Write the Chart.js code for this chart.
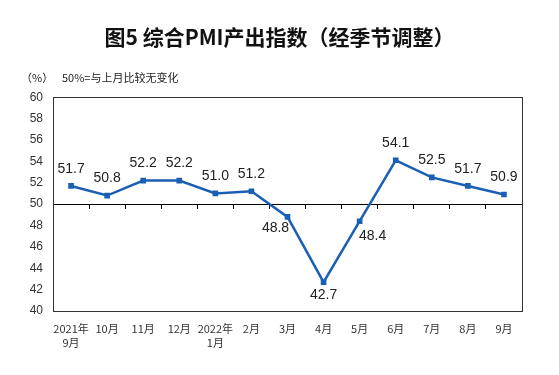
<!DOCTYPE html>
<html>
<head>
<meta charset="utf-8">
<script src="https://cdn.jsdelivr.net/npm/chart.js@4.4.1/dist/chart.umd.min.js"></script>
<style>
  body { margin: 0; background: #fff; }
</style>
</head>
<body>
<canvas id="pmiChart" width="559" height="375"></canvas>
<script>
// Data
const months = [['2021年', '9月'], '10月', '11月', '12月', ['2022年', '1月'], '2月', '3月', '4月', '5月', '6月', '7月', '8月', '9月'];
const pmiValues = [51.7, 50.8, 52.2, 52.2, 51.0, 51.2, 48.8, 42.7, 48.4, 54.1, 52.5, 51.7, 50.9];
const yMin = 40;
const yMax = 60;
const yStep = 2;
const baseline = 50;
const labelPlacement = ['above', 'above', 'above', 'above', 'above', 'above', 'leftBelow', 'below', 'rightBelow', 'above', 'above', 'above', 'above'];

const lineColor = '#1a5fb4';
const labelOffsets = {
    above: [0, -17],
    below: [0, 13],
    leftBelow: [-12, 11],
    rightBelow: [13, 15]
};

// Box around the plot area
const plotBox = {
    id: 'plotBox',
    beforeDatasetsDraw(chart) {
        const { ctx, chartArea } = chart;
        ctx.save();
        ctx.strokeStyle = '#333';
        ctx.lineWidth = 1;
        ctx.strokeRect(Math.round(chartArea.left) + 0.5, Math.round(chartArea.top) + 0.5,
            Math.round(chartArea.right - chartArea.left), Math.round(chartArea.bottom - chartArea.top));
        ctx.restore();
    }
};

// Value labels next to each point
const valueLabels = {
    id: 'valueLabels',
    afterDatasetsDraw(chart) {
        const ctx = chart.ctx;
        const meta = chart.getDatasetMeta(0);
        ctx.save();
        ctx.font = '14px "Liberation Sans", Arial, sans-serif';
        ctx.fillStyle = '#222';
        ctx.textAlign = 'center';
        ctx.textBaseline = 'middle';
        meta.data.forEach((pt, i) => {
            const off = labelOffsets[labelPlacement[i]];
            ctx.fillText(pmiValues[i].toFixed(1), pt.x + off[0], pt.y + off[1]);
        });
        ctx.restore();
    }
};

// Unit and note above the plot
const notes = {
    id: 'notes',
    afterDraw(chart) {
        const ctx = chart.ctx;
        ctx.save();
        ctx.font = '11px "Noto Sans CJK SC", sans-serif';
        ctx.fillStyle = '#222';
        ctx.textBaseline = 'middle';
        ctx.fillText('（%）', 21, 78);
        ctx.fillText('50%=与上月比较无变化', 62, 78);
        ctx.restore();
    }
};

const ctx = document.getElementById('pmiChart').getContext('2d');
new Chart(ctx, {
    type: 'line',
    data: {
        labels: months,
        datasets: [{
            data: pmiValues,
            borderColor: lineColor,
            backgroundColor: lineColor,
            borderWidth: 2.5,
            pointStyle: 'rect',
            pointRadius: 4,
            pointBorderWidth: 0,
            tension: 0,
            fill: false
        }]
    },
    options: {
        responsive: false,
        devicePixelRatio: 1,
        animation: false,
        layout: { padding: 0 },
        plugins: {
            legend: { display: false },
            tooltip: { enabled: false },
            title: {
                display: true,
                text: '图5 综合PMI产出指数（经季节调整）',
                color: '#111',
                font: { family: '"Noto Sans CJK SC", sans-serif', size: 21, weight: 'bold' },
                padding: { top: 24, bottom: 48 }
            }
        },
        scales: {
            x: {
                type: 'category',
                position: 'bottom',
                offset: true,
                grid: { display: false, drawTicks: false },
                border: { display: false },
                ticks: {
                    padding: 11,
                    color: '#333',
                    maxRotation: 0,
                    autoSkip: false,
                    font: { family: '"Noto Sans CJK SC", sans-serif', size: 11, lineHeight: 1.27 }
                },
                afterFit(scale) { scale.height = 64; }
            },
            x50: {
                type: 'category',
                position: { y: baseline },
                offset: true,
                grid: { display: true, drawOnChartArea: false, drawTicks: true, tickLength: 4, offset: true, color: '#000' },
                border: { display: true, color: '#000', width: 1 },
                ticks: { display: false }
            },
            y: {
                min: yMin,
                max: yMax,
                grid: { display: false, drawTicks: false },
                border: { display: false },
                ticks: {
                    stepSize: yStep,
                    padding: 10,
                    color: '#333',
                    font: { family: '"Liberation Sans", Arial, sans-serif', size: 12 }
                },
                afterFit(scale) { scale.width = 53; }
            },
            yRight: {
                position: 'right',
                min: yMin,
                max: yMax,
                grid: { display: false, drawTicks: false },
                border: { display: false },
                ticks: { display: false },
                afterFit(scale) { scale.width = 37; }
            }
        }
    },
    plugins: [plotBox, valueLabels, notes]
});
</script>
</body>
</html>
